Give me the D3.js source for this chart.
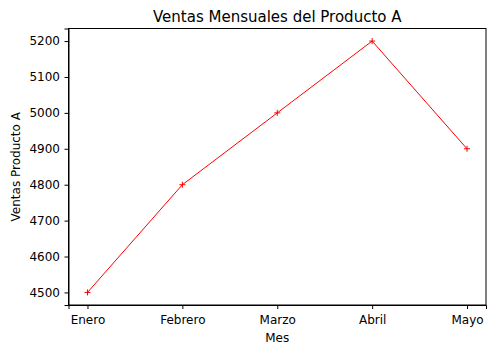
<!DOCTYPE html>
<html>
<head>
<meta charset="utf-8">
<script src="https://cdn.jsdelivr.net/npm/d3@7"></script>
<style>
  body { margin: 0; background: #fff; }
  svg, svg text { font-family: "DejaVu Sans", sans-serif; }
  .tick text { font-size: 12px; fill: #000; }
  .tick line, .domain { stroke: #000; stroke-width: 1px; }
</style>
</head>
<body>
<svg id="chart" width="495" height="354"></svg>
<script>
// Data
const months = ['Enero', 'Febrero', 'Marzo', 'Abril', 'Mayo'];
const sales = [4500, 4800, 5000, 5200, 4900];
const yTicks = [4500, 4600, 4700, 4800, 4900, 5000, 5100, 5200];

const margin = { top: 28.5, right: 9, bottom: 49, left: 68.5 };
const width = 495, height = 354;

const svg = d3.select('#chart');

const x = d3.scaleLinear()
  .domain([-0.2, months.length - 1 + 0.2])
  .range([margin.left, width - margin.right]);

const y = d3.scaleLinear()
  .domain([4465, 5235])
  .range([height - margin.bottom, margin.top]);

// Axes
svg.append('g')
  .attr('transform', `translate(0,${height - margin.bottom})`)
  .call(d3.axisBottom(x)
    .tickValues(d3.range(months.length))
    .tickFormat(i => months[i])
    .tickSizeOuter(0)
    .tickSize(4)
    .tickPadding(6.5));

svg.append('g')
  .attr('transform', `translate(${margin.left},0)`)
  .call(d3.axisLeft(y)
    .tickValues(yTicks)
    .tickFormat(d3.format('d'))
    .tickSizeOuter(0)
    .tickSize(4)
    .tickPadding(4.5));

// Frame (top and right spines)
svg.append('rect')
  .attr('x', margin.left)
  .attr('y', margin.top)
  .attr('width', width - margin.right - margin.left)
  .attr('height', height - margin.bottom - margin.top)
  .attr('fill', 'none')
  .attr('stroke', '#000')
  .attr('stroke-width', 1);

// Line
const line = d3.line()
  .x((d, i) => x(i))
  .y(d => y(d));

svg.append('path')
  .datum(sales)
  .attr('d', line)
  .attr('fill', 'none')
  .attr('stroke', 'red')
  .attr('stroke-width', 1);

// '+' markers
const markers = svg.append('g')
  .selectAll('g')
  .data(sales)
  .enter()
  .append('g')
  .attr('transform', (d, i) => `translate(${x(i)},${y(d)})`);

markers.append('path')
  .attr('d', 'M-3,0H3M0,-3V3')
  .attr('stroke', 'red')
  .attr('stroke-width', 1);

// Title and labels
svg.append('text')
  .attr('x', (margin.left + width - margin.right) / 2)
  .attr('y', 21.5)
  .attr('text-anchor', 'middle')
  .attr('font-size', 15)
  .text('Ventas Mensuales del Producto A');

svg.append('text')
  .attr('x', (margin.left + width - margin.right) / 2)
  .attr('y', 341.5)
  .attr('text-anchor', 'middle')
  .attr('font-size', 12)
  .text('Mes');

svg.append('text')
  .attr('transform', `translate(19.5,${(margin.top + height - margin.bottom) / 2}) rotate(-90)`)
  .attr('text-anchor', 'middle')
  .attr('font-size', 12)
  .text('Ventas Producto A');
</script>
</body>
</html>
